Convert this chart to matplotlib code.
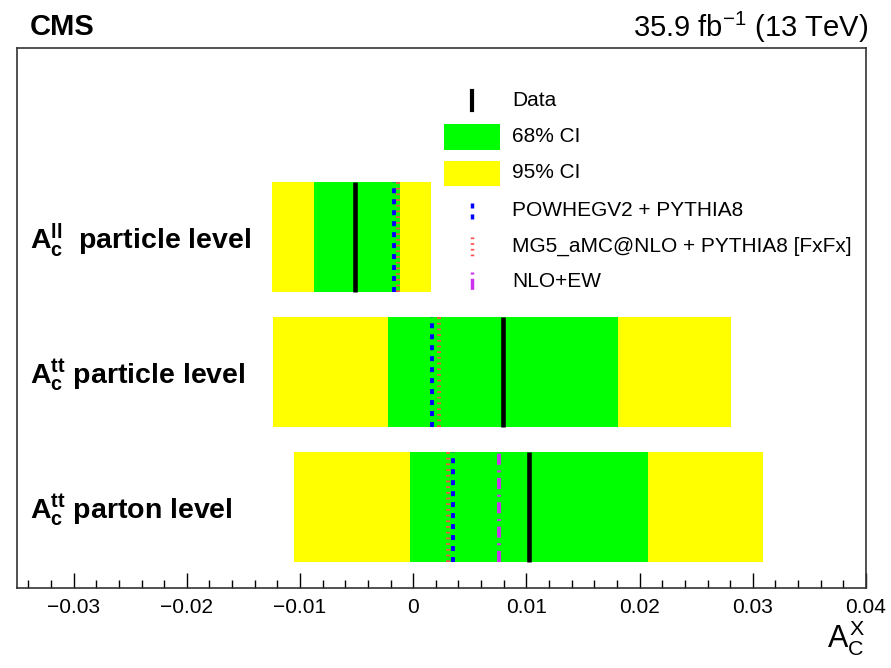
import matplotlib
matplotlib.use('Agg')
import matplotlib.pyplot as plt
from matplotlib.lines import Line2D
from matplotlib.patches import Rectangle
from matplotlib.ticker import MultipleLocator

plt.rcParams['font.family'] = ['Liberation Sans', 'DejaVu Sans']
plt.rcParams['mathtext.fontset'] = 'custom'
plt.rcParams['mathtext.rm'] = 'Liberation Sans'
plt.rcParams['mathtext.it'] = 'Liberation Sans'
plt.rcParams['mathtext.bf'] = 'Liberation Sans:bold'
plt.rcParams['lines.scale_dashes'] = False

# ---------------- data ----------------
row_labels = [r"$\mathbf{A}_{\mathbf{c}}^{\mathbf{ll}}$  particle level",
              r"$\mathbf{A}_{\mathbf{c}}^{\mathbf{tt}}$ particle level",
              r"$\mathbf{A}_{\mathbf{c}}^{\mathbf{tt}}$ parton level"]
row_pos = [2, 1, 0]
data_val = [-0.0051, 0.0079, 0.0102]
ci68_lo = [-0.0088, -0.0022, -0.0003]
ci68_hi = [-0.0012, 0.0181, 0.0207]
ci95_lo = [-0.0125, -0.0124, -0.0105]
ci95_hi = [0.0016, 0.0281, 0.0309]
powheg = [-0.0017, 0.0017, 0.0035]
mg5 = [-0.0013, 0.0023, 0.0031]
nloew = [None, None, 0.0076]
legend_labels = ["Data", "68% CI", "95% CI", "POWHEGV2 + PYTHIA8",
                 "MG5_aMC@NLO + PYTHIA8 [FxFx]", "NLO+EW"]
tick_vals = [-0.03, -0.02, -0.01, 0, 0.01, 0.02, 0.03, 0.04]
tick_labels = ['\u22120.03', '\u22120.02', '\u22120.01', '0', '0.01',
               '0.02', '0.03', '0.04']

# ---------------- styles ----------------
W, H = 891, 668
GREEN = '#00ff00'
YELLOW = '#ffff00'
BLUE = '#0000ff'
RED = '#ff4d4d'
MAG = '#cc33ee'
BAR_H = 0.81
blue_dash = (0, (3.6, 4.3))
red_dash = (0, (1.2, 2.9))
mag_dash = (0, (8.0, 4.0, 1.5, 4.0))

fig = plt.figure(figsize=(W / 100, H / 100), dpi=100)
ax = fig.add_axes([17 / W, (H - 588) / H, (866 - 17) / W, (588 - 48) / H])

for i, y in enumerate(row_pos):
    ax.barh(y, ci95_hi[i] - ci95_lo[i], left=ci95_lo[i], height=BAR_H,
            color=YELLOW, edgecolor='none', zorder=1)
    ax.barh(y, ci68_hi[i] - ci68_lo[i], left=ci68_lo[i], height=BAR_H,
            color=GREEN, edgecolor='none', zorder=2)
    ax.vlines(data_val[i], y - BAR_H / 2, y + BAR_H / 2, color='black',
              lw=3.3, zorder=6)
    ax.vlines(mg5[i], y - BAR_H / 2, y + BAR_H / 2, color=RED, lw=2.8,
              linestyles=[red_dash], zorder=4)
    ax.vlines(powheg[i], y - BAR_H / 2, y + BAR_H / 2, color=BLUE, lw=2.8,
              linestyles=[blue_dash], zorder=5)
    if nloew[i] is not None:
        ax.vlines(nloew[i], y - BAR_H / 2, y + BAR_H / 2, color=MAG, lw=2.8,
                  linestyles=[mag_dash], zorder=5)
    ax.text(0.0153, y - 0.02, row_labels[i], transform=ax.get_yaxis_transform(),
            ha='left', va='center', fontsize=20.5, fontweight='bold')

ax.set_xlim(-0.035, 0.04)
ax.set_ylim(-0.6, 3.4)
ax.set_yticks([])
ax.set_xticks(tick_vals)
ax.set_xticklabels(tick_labels)
ax.xaxis.set_minor_locator(MultipleLocator(0.002))
ax.tick_params(axis='x', which='major', direction='in', length=11, width=1.0,
               labelsize=15, pad=7)
ax.tick_params(axis='x', which='minor', direction='in', length=5.5, width=1.0)
for s in ax.spines.values():
    s.set_linewidth(1.2)
    s.set_color('#333333')


def P(px, py):
    return px / W, 1 - py / H


# ---------------- legend ----------------
tx = 512
ys = [100, 137, 173, 210, 246, 282]
fig.add_artist(Line2D(*zip(P(472, 91), P(472, 110)), transform=fig.transFigure,
                      color='black', lw=3.0))
x0, y0 = P(444, 150)
fig.add_artist(Rectangle((x0, y0), 56 / W, 26 / H, transform=fig.transFigure,
                         facecolor=GREEN, edgecolor='none'))
x0, y0 = P(444, 186)
fig.add_artist(Rectangle((x0, y0), 56 / W, 25 / H, transform=fig.transFigure,
                         facecolor=YELLOW, edgecolor='none'))
fig.add_artist(Line2D(*zip(P(472, 203), P(472, 222)), transform=fig.transFigure,
                      color=BLUE, lw=2.5, linestyle=blue_dash))
fig.add_artist(Line2D(*zip(P(472, 237), P(472, 256)), transform=fig.transFigure,
                      color=RED, lw=2.5, linestyle=red_dash))
fig.add_artist(Line2D(*zip(P(472, 272), P(472, 292)), transform=fig.transFigure,
                      color=MAG, lw=2.5, linestyle=(0, (1.5, 3.0, 8.0, 3.0))))
for lab, yy in zip(legend_labels, ys):
    fig.text(*P(tx, yy), lab, ha='left', va='center', fontsize=15)

# ---------------- header / axis title ----------------
fig.text(*P(30, 27), 'CMS', ha='left', va='center', fontsize=21,
         fontweight='bold')
fig.text(*P(868, 27), r'35.9 fb$^{\mathregular{-1}}$ (13 TeV)', ha='right',
         va='center', fontsize=21)
fig.text(*P(846, 638), r'$A_{C}^{X}$', ha='center', va='center', fontsize=22)

fig.savefig('out.png', dpi=100)
